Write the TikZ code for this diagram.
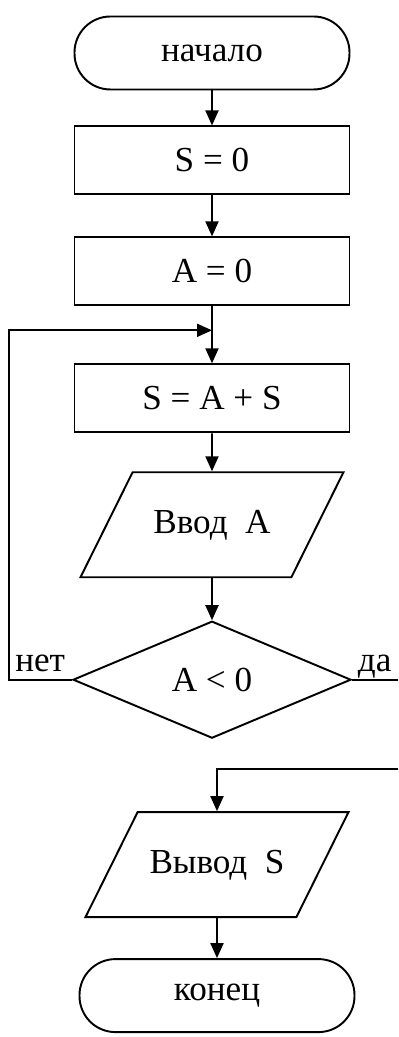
\documentclass[tikz,border=0pt]{standalone}
\usepackage{fontspec}
\setmainfont{Liberation Serif}
\usetikzlibrary{positioning,shapes.geometric,arrows.meta,calc}

\begin{document}
\begin{tikzpicture}[
        font=\fontsize{20}{24}\selectfont,
        line width=1.1pt,
        term/.style={rectangle, rounded corners=7.2mm, draw=black, minimum width=5.5cm, minimum height=1.46cm, inner sep=0pt},
        proc/.style={rectangle, draw=black, minimum width=5.5cm, minimum height=1.36cm},
        io/.style={trapezium, trapezium left angle=63.6, trapezium right angle=116.4, trapezium stretches body=true, draw=black, minimum width=5.26cm, text height=0.5cm, text depth=0.15cm, inner ysep=0.725cm},
        decide/.style={diamond, aspect=2.4, draw=black, minimum width=5.56cm, minimum height=2.34cm, inner sep=0pt},
        arr/.style={draw, -{Triangle[length=3mm, width=2.6mm]}},
        lbl/.style={inner sep=0pt}
    ]
        \useasboundingbox (-4.24,1.06) rectangle (3.72,-19.68);

        \node[term] (start) at (0,0) {начало};
        \node[proc] (s0) [below=0.7cm of start] {S = 0};
        \node[proc] (a0) [below=0.82cm of s0] {A = 0};
        \node[proc] (sum) [below=1.14cm of a0] {S = A + S};
        \node[io] (inp) [below=0.76cm of sum] {Ввод~~A};
        \node[decide] (cond) [below=0.84cm of inp] {A < 0};

        \node[io] (outp) [below=1.44cm of cond, xshift=0.1cm] {Вывод~~S};
        \node[term] (stop) [below=0.8cm of outp] {конец};

        \node[lbl, anchor=base east] (no) at ([xshift=-0.12cm, yshift=0.16cm]cond.west) {нет};
        \node[lbl, anchor=base west] (yes) at ([xshift=0.1cm, yshift=0.16cm]cond.east) {да};

        \coordinate (join) at ([yshift=-0.48cm]a0.south);
        \coordinate (yesout) at ([xshift=0.92cm]cond.east);
        \coordinate (yesin) at ($(outp.north -| yesout)+(0,0.84)$);

        \draw[arr] (start) -- (s0);
        \draw[arr] (s0) -- (a0);
        \draw[arr] (a0) -- (sum);
        \draw[arr] (sum) -- (inp);
        \draw[arr] (inp) -- (cond);
        \draw[arr] (cond.west) -- ++(-1.26,0) |- (join);
        \draw (cond.east) -- (yesout);
        \draw[arr] (yesin) -| (outp);
        \draw[arr] (outp) -- (stop);
    \end{tikzpicture}
\end{document}
